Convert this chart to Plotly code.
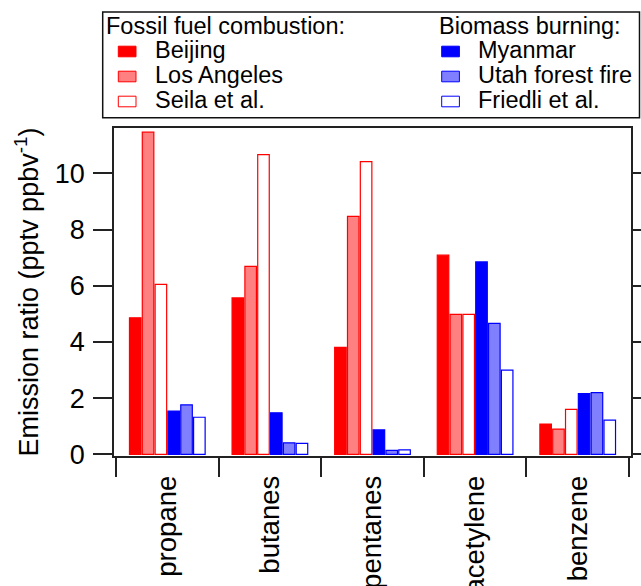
import plotly.graph_objects as go

# Emission ratios (pptv per ppbv CO) by compound and source
compounds = ["propane", "butanes", "pentanes", "acetylene", "benzene"]

beijing = [4.86, 5.57, 3.81, 7.09, 1.08]
los_angeles = [11.47, 6.69, 8.47, 4.98, 0.90]
seila = [6.05, 10.67, 10.42, 4.98, 1.60]
myanmar = [1.54, 1.48, 0.87, 6.85, 2.16]
utah_fire = [1.76, 0.41, 0.14, 4.66, 2.20]
friedli = [1.32, 0.39, 0.16, 3.00, 1.22]

y_ticks = [0, 2, 4, 6, 8, 10]

group_titles = ["Fossil fuel combustion:", "Biomass burning:"]

RED, BLUE = "#ff0000", "#0000ff"
FONT = "Liberation Sans, Arial, Helvetica, sans-serif"
KEY_SIZE = 23.5

series = [
    ("Beijing", beijing, RED, RED),
    ("Los Angeles", los_angeles, "#ff8080", RED),
    ("Seila et al.", seila, "#ffffff", RED),
    ("Myanmar", myanmar, BLUE, BLUE),
    ("Utah forest fire", utah_fire, "#8080ff", BLUE),
    ("Friedli et al.", friedli, "#ffffff", BLUE),
]

# page geometry
W, H = 641, 586
ML, MR, MT, MB = 114, 10, 128, 130
PW, PH = W - ML - MR, H - MT - MB


def px(x):
    return (x - ML) / PW


def py(y):
    return (H - MB - y) / PH


fig = go.Figure()
for name, vals, fill, edge in series:
    fig.add_trace(go.Bar(
        name=name, x=compounds, y=vals,
        marker=dict(color=fill, line=dict(color=edge, width=1.2)),
        showlegend=False,
    ))

# boxed two-column key drawn in paper space
shapes = [dict(type="rect", xref="paper", yref="paper",
               x0=px(102.7), x1=px(639.5), y0=py(117.7), y1=py(12),
               line=dict(color="#111111", width=1.5), fillcolor="rgba(0,0,0,0)")]
annotations = []
columns = [(group_titles[0], series[:3], 105.5, 118.3, 154.5),
           (group_titles[1], series[3:], 438.5, 441.7, 477.7)]
row_y = [50, 75, 100]
for title, entries, tx, sx, lx in columns:
    annotations.append(dict(text=title, xref="paper", yref="paper",
                            x=px(tx), y=py(25.8), xanchor="left", yanchor="middle",
                            showarrow=False, borderpad=0, borderwidth=0,
                            font=dict(family=FONT, size=KEY_SIZE, color="black")))
    for (name, _, fill, edge), ry in zip(entries, row_y):
        sy = ry + 1.5
        shapes.append(dict(type="rect", xref="paper", yref="paper",
                           x0=px(sx), x1=px(sx + 17.7),
                           y0=py(sy + 5.3), y1=py(sy - 5.3),
                           fillcolor=fill, line=dict(color=edge, width=1)))
        annotations.append(dict(text=name, xref="paper", yref="paper",
                                x=px(lx), y=py(ry), xanchor="left", yanchor="middle",
                                showarrow=False, borderpad=0, borderwidth=0,
                                font=dict(family=FONT, size=KEY_SIZE, color="black")))

fig.update_layout(
    width=W, height=H,
    margin=dict(l=ML, r=MR, t=MT, b=MB, pad=0),
    paper_bgcolor="white", plot_bgcolor="white",
    barmode="group", bargap=0.25, bargroupgap=0.1,
    font=dict(family=FONT, color="black"),
    shapes=shapes, annotations=annotations,
    xaxis=dict(
        type="category", categoryorder="array", categoryarray=compounds,
        range=[-0.5195, 4.5195], automargin=False,
        tickson="boundaries", ticks="outside", ticklen=19, tickwidth=1.5,
        tickcolor="#222222", tickangle=-90, ticklabelstandoff=7,
        tickfont=dict(family=FONT, size=27.5, color="black"),
        showline=True, linewidth=1.5, linecolor="#222222", mirror=True,
        showgrid=False, zeroline=False,
    ),
    yaxis=dict(
        range=[-0.06, 11.62], tickvals=y_ticks, ticktext=[str(v) for v in y_ticks],
        automargin=False,
        ticks="outside", ticklen=19, tickwidth=1.5, tickcolor="#222222",
        ticklabelstandoff=3,
        tickfont=dict(family=FONT, size=27, color="black"),
        showline=True, linewidth=1.5, linecolor="#222222", mirror="ticks",
        showgrid=False, zeroline=False,
        title=dict(text="Emission ratio (pptv ppbv<sup>-1</sup>)",
                   font=dict(family=FONT, size=27, color="black"), standoff=8),
    ),
)

fig.write_html("out.html")
